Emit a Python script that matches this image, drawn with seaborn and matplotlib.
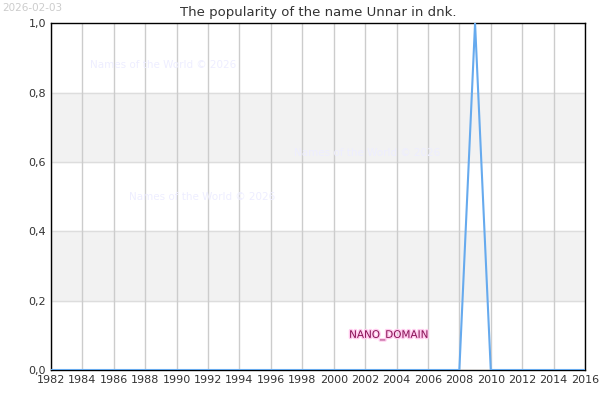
import matplotlib
matplotlib.use("Agg")
import matplotlib.pyplot as plt
import matplotlib.patheffects as pe
import seaborn as sns
import pandas as pd

years = list(range(1982, 2017))
values = [1.0 if y == 2009 else 0.0 for y in years]
xticks = list(range(1982, 2017, 2))
yticks = [0.0, 0.2, 0.4, 0.6, 0.8, 1.0]
ylabels = ["0,0", "0,2", "0,4", "0,6", "0,8", "1,0"]

df = pd.DataFrame({"year": years, "value": values})

sns.set_style("white")
plt.rcParams['font.family'] = ['DejaVu Sans']
fig = plt.figure(figsize=(6, 4), dpi=100)
ax = fig.add_axes([0.085, 0.075, 0.89, 0.867])
for lo, hi in [(0.2, 0.4), (0.6, 0.8)]:
    ax.axhspan(lo, hi, color="#f2f2f2", zorder=0)
for y in [0.2, 0.4, 0.6, 0.8]:
    ax.axhline(y, color="#dddddd", lw=1, zorder=0.5)
for x in xticks:
    ax.axvline(x, color="#cccccc", lw=1, zorder=0.5)
sns.lineplot(data=df, x="year", y="value", ax=ax, color="#66aaee", lw=1.5, zorder=3)
ax.set_xlim(1982, 2016)
ax.set_ylim(0, 1)
ax.set_xticks(xticks)
ax.set_yticks(yticks)
ax.set_yticklabels(ylabels)
ax.tick_params(labelsize=8, colors="#333333", length=0)
ax.set_xlabel("")
ax.set_ylabel("")
for s in ax.spines.values():
    s.set_color("black")
    s.set_linewidth(1)
ax.set_title("The popularity of the name Unnar in dnk.", fontsize=9.5, color="#333333", pad=5)
fig.text(0.003, 0.993, "2026-02-03", fontsize=7.5, color="#cccccc", va="top")
for tx, ty in [(0.15, 0.83), (0.49, 0.61), (0.215, 0.5)]:
    fig.text(tx, ty, "Names of the World © 2026", fontsize=7.5, color="#eeeeff")
ax.text(2003.5, 0.1, "NANO_DOMAIN", fontsize=7.5, color="#881155", ha="center", va="center",
        path_effects=[pe.withStroke(linewidth=2, foreground="#ffccee")])
fig.savefig("out.png")
